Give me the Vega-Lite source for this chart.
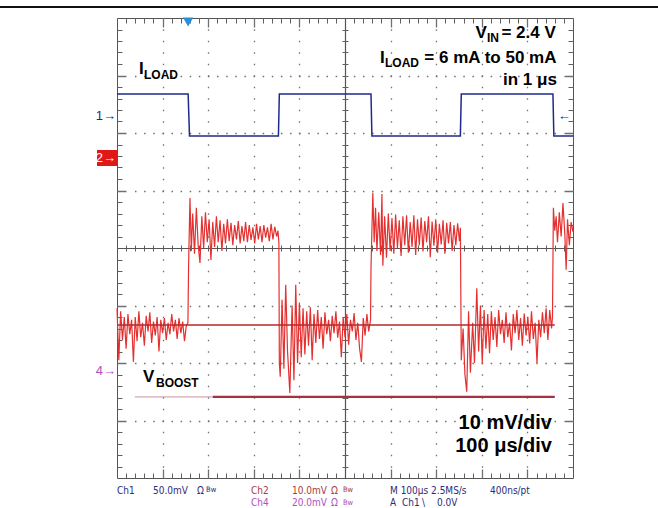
{
 "$schema": "https://vega.github.io/schema/vega-lite/v6.json",
 "width": 456, "height": 460,
 "autosize": {"type": "none"},
 "padding": {"left": 117, "top": 18, "right": 85, "bottom": 30},
 "background": "white",
 "config": {"view": {"stroke": "#555555", "strokeWidth": 1}},
 "datasets": {
  "ch1": [{"t":0,"v":2.68},{"t":1.56,"v":2.68},{"t":1.59,"v":1.95},{"t":3.54,"v":1.95},{"t":3.56,"v":2.68},{"t":5.57,"v":2.68},{"t":5.59,"v":1.95},{"t":7.53,"v":1.95},{"t":7.55,"v":2.68},{"t":9.56,"v":2.68},{"t":9.58,"v":1.95},{"t":10,"v":1.95}],
  "ch2": [
   {"t":0,"v":-1.05},{"t":0.04,"v":-1.95},{"t":0.08,"v":-1.1},{"t":0.12,"v":-1.6},{"t":0.16,"v":-1.2},{"t":0.2,"v":-1.75},{"t":0.24,"v":-1.15},{"t":0.28,"v":-1.5},{"t":0.32,"v":-1.25},{"t":0.36,"v":-1.98},{"t":0.4,"v":-1.2},{"t":0.44,"v":-1.62},{"t":0.48,"v":-1.1},{"t":0.52,"v":-1.55},{"t":0.56,"v":-1.3},{"t":0.6,"v":-1.7},{"t":0.64,"v":-1.18},{"t":0.68,"v":-1.45},{"t":0.72,"v":-1.12},{"t":0.76,"v":-1.65},{"t":0.8,"v":-1.28},{"t":0.84,"v":-1.52},{"t":0.88,"v":-1.2},{"t":0.92,"v":-1.8},{"t":0.96,"v":-1.25},{"t":1,"v":-1.48},{"t":1.04,"v":-1.22},{"t":1.08,"v":-1.6},{"t":1.12,"v":-1.3},{"t":1.16,"v":-1.5},{"t":1.2,"v":-1.15},{"t":1.24,"v":-1.45},{"t":1.28,"v":-1.25},{"t":1.32,"v":-1.58},{"t":1.36,"v":-1.22},{"t":1.4,"v":-1.48},{"t":1.44,"v":-1.28},{"t":1.48,"v":-1.62},{"t":1.52,"v":-1.35},{"t":1.555,"v":-1.3},{"t":1.57,"v":-0.3},{"t":1.6,"v":0.87},
   {"t":1.63,"v":-0.05},{"t":1.66,"v":0.6},{"t":1.7,"v":-0.1},{"t":1.74,"v":0.7},{"t":1.78,"v":0.05},{"t":1.82,"v":-0.26},{"t":1.86,"v":0.55},{"t":1.9,"v":0},{"t":1.94,"v":0.62},{"t":1.98,"v":0.1},{"t":2.02,"v":0.5},{"t":2.06,"v":-0.21},{"t":2.1,"v":0.45},{"t":2.14,"v":0.02},{"t":2.18,"v":0.55},{"t":2.22,"v":0.1},{"t":2.26,"v":0.48},{"t":2.3,"v":-0.05},{"t":2.34,"v":0.42},{"t":2.38,"v":0.08},{"t":2.42,"v":0.5},{"t":2.46,"v":0.12},{"t":2.5,"v":0.44},{"t":2.54,"v":0.05},{"t":2.58,"v":0.4},{"t":2.62,"v":0.15},{"t":2.66,"v":0.47},{"t":2.7,"v":0.08},{"t":2.74,"v":0.38},{"t":2.78,"v":0.12},{"t":2.82,"v":0.45},{"t":2.86,"v":0.1},{"t":2.9,"v":0.4},{"t":2.94,"v":0.14},{"t":2.98,"v":0.36},{"t":3.02,"v":0.08},{"t":3.06,"v":0.42},{"t":3.1,"v":0.15},{"t":3.14,"v":0.38},{"t":3.18,"v":0.1},{"t":3.22,"v":0.4},{"t":3.26,"v":0.18},{"t":3.3,"v":0.36},{"t":3.34,"v":0.12},{"t":3.38,"v":0.42},{"t":3.42,"v":0.15},{"t":3.46,"v":0.37},{"t":3.5,"v":0.2},{"t":3.53,"v":0.3},{"t":3.55,"v":0.1},{"t":3.56,"v":-2.0},
   {"t":3.58,"v":-2.24},{"t":3.62,"v":-0.9},{"t":3.66,"v":-2.1},{"t":3.7,"v":-0.64},{"t":3.74,"v":-1.8},{"t":3.79,"v":-2.52},{"t":3.84,"v":-1.0},{"t":3.88,"v":-2.3},{"t":3.92,"v":-0.64},{"t":3.96,"v":-2.0},{"t":4,"v":-0.95},{"t":4.04,"v":-1.9},{"t":4.08,"v":-1.05},{"t":4.12,"v":-1.85},{"t":4.16,"v":-1.1},{"t":4.2,"v":-1.7},{"t":4.24,"v":-1.03},{"t":4.28,"v":-1.95},{"t":4.32,"v":-1.15},{"t":4.36,"v":-1.65},{"t":4.4,"v":-1.08},{"t":4.44,"v":-1.58},{"t":4.48,"v":-1.2},{"t":4.52,"v":-1.75},{"t":4.56,"v":-1.12},{"t":4.6,"v":-1.5},{"t":4.64,"v":-1.25},{"t":4.68,"v":-1.62},{"t":4.72,"v":-1.18},{"t":4.76,"v":-1.48},{"t":4.8,"v":-1.1},{"t":4.84,"v":-1.56},{"t":4.88,"v":-1.28},{"t":4.92,"v":-1.9},{"t":4.96,"v":-1.2},{"t":5,"v":-1.55},{"t":5.04,"v":-1.15},{"t":5.08,"v":-1.68},{"t":5.12,"v":-1.25},{"t":5.16,"v":-1.45},{"t":5.2,"v":-1.13},{"t":5.24,"v":-1.6},{"t":5.28,"v":-1.3},{"t":5.32,"v":-1.75},{"t":5.36,"v":-1.98},{"t":5.4,"v":-1.22},{"t":5.44,"v":-1.52},{"t":5.48,"v":-1.15},{"t":5.52,"v":-1.45},{"t":5.56,"v":-1.25},{"t":5.57,"v":-0.35},{"t":5.61,"v":0.96},
   {"t":5.64,"v":0.1},{"t":5.67,"v":0.7},{"t":5.7,"v":-0.05},{"t":5.74,"v":0.62},{"t":5.78,"v":-0.12},{"t":5.81,"v":0.94},{"t":5.83,"v":-0.31},{"t":5.87,"v":0.55},{"t":5.91,"v":-0.17},{"t":5.95,"v":0.6},{"t":5.99,"v":-0.05},{"t":6.03,"v":0.52},{"t":6.07,"v":-0.1},{"t":6.11,"v":0.58},{"t":6.15,"v":0},{"t":6.19,"v":0.48},{"t":6.23,"v":-0.14},{"t":6.27,"v":0.55},{"t":6.31,"v":0.05},{"t":6.35,"v":0.57},{"t":6.39,"v":-0.08},{"t":6.43,"v":0.45},{"t":6.47,"v":0.02},{"t":6.51,"v":0.57},{"t":6.55,"v":-0.12},{"t":6.59,"v":0.5},{"t":6.63,"v":0.05},{"t":6.67,"v":0.53},{"t":6.71,"v":-0.06},{"t":6.75,"v":0.47},{"t":6.79,"v":0.1},{"t":6.83,"v":0.55},{"t":6.87,"v":-0.16},{"t":6.91,"v":0.46},{"t":6.95,"v":0.04},{"t":6.99,"v":0.5},{"t":7.03,"v":-0.08},{"t":7.07,"v":0.42},{"t":7.11,"v":0.06},{"t":7.15,"v":0.48},{"t":7.19,"v":-0.1},{"t":7.23,"v":0.44},{"t":7.27,"v":0.08},{"t":7.31,"v":0.45},{"t":7.35,"v":-0.05},{"t":7.39,"v":0.4},{"t":7.43,"v":0.05},{"t":7.47,"v":0.43},{"t":7.51,"v":0.12},{"t":7.53,"v":0.35},{"t":7.55,"v":-1.95},
   {"t":7.59,"v":-1.4},{"t":7.63,"v":-2.2},{"t":7.67,"v":-2.5},{"t":7.71,"v":-1.1},{"t":7.75,"v":-2.17},{"t":7.8,"v":-1.3},{"t":7.84,"v":-2.0},{"t":7.89,"v":-0.7},{"t":7.93,"v":-1.8},{"t":7.97,"v":-1.0},{"t":8.01,"v":-2.0},{"t":8.05,"v":-1.08},{"t":8.09,"v":-1.75},{"t":8.13,"v":-1.15},{"t":8.17,"v":-1.83},{"t":8.21,"v":-1.1},{"t":8.25,"v":-1.6},{"t":8.29,"v":-1.2},{"t":8.33,"v":-1.72},{"t":8.37,"v":-1.08},{"t":8.41,"v":-1.5},{"t":8.45,"v":-1.25},{"t":8.49,"v":-1.65},{"t":8.53,"v":-1.12},{"t":8.57,"v":-1.55},{"t":8.61,"v":-1.3},{"t":8.65,"v":-1.78},{"t":8.69,"v":-1.15},{"t":8.73,"v":-1.48},{"t":8.77,"v":-1.08},{"t":8.81,"v":-1.6},{"t":8.85,"v":-1.22},{"t":8.89,"v":-1.7},{"t":8.93,"v":-1.14},{"t":8.97,"v":-1.52},{"t":9.01,"v":-1.2},{"t":9.05,"v":-1.66},{"t":9.09,"v":-1.1},{"t":9.13,"v":-1.58},{"t":9.17,"v":-1.3},{"t":9.21,"v":-2.0},{"t":9.25,"v":-1.25},{"t":9.29,"v":-1.55},{"t":9.33,"v":-1.12},{"t":9.37,"v":-1.48},{"t":9.41,"v":-1.05},{"t":9.45,"v":-1.6},{"t":9.49,"v":-1.08},{"t":9.53,"v":-1.4},{"t":9.55,"v":-1.2},
   {"t":9.57,"v":0.7},{"t":9.6,"v":0.3},{"t":9.63,"v":0.55},{"t":9.66,"v":0.1},{"t":9.7,"v":0.62},{"t":9.74,"v":0.2},{"t":9.78,"v":0.78},{"t":9.82,"v":0.25},{"t":9.85,"v":-0.38},{"t":9.88,"v":0.5},{"t":9.92,"v":0.05},{"t":9.96,"v":0.45},{"t":10,"v":0.28}
  ],
  "refs": [
   {"kind":"frame","x1":-2.566,"x2":11.864,"y":4.191},
   {"kind":"ref2","x1":0,"x2":9.6,"y":-1.34},
   {"kind":"ch4a","x1":0.39,"x2":2.1,"y":-2.59},
   {"kind":"ch4b","x1":2.1,"x2":9.6,"y":-2.59}
  ],
  "box": [{"x1":-0.439,"x2":0,"y1":1.704,"y2":1.426}],
  "trig": [{"x":1.56,"y":3.93}],
  "labels": [
   {"x":0.482,"y":3.026,"txt":"I","role":"big"},
   {"x":0.592,"y":2.939,"txt":"LOAD","role":"sub"},
   {"x":0.57,"y":-2.33,"txt":"V","role":"big"},
   {"x":0.855,"y":-2.417,"txt":"BOOST","role":"sub"},
   {"x":7.862,"y":3.647,"txt":"V","role":"big"},
   {"x":8.114,"y":3.588,"txt":"IN","role":"sub"},
   {"x":8.43,"y":3.647,"txt":"= 2.4 V","role":"big"},
   {"x":5.768,"y":3.212,"txt":"I","role":"big"},
   {"x":5.877,"y":3.153,"txt":"LOAD","role":"sub"},
   {"x":6.74,"y":3.212,"txt":"= 6 mA to 50 mA","role":"big"},
   {"x":8.465,"y":2.835,"txt":"in 1 μs","role":"big"},
   {"x":9.539,"y":-3.148,"txt":"10 mV/div","role":"div"},
   {"x":9.539,"y":-3.548,"txt":"100 μs/div","role":"div"}
  ],
  "status": [
   {"x":0,"y":-4.278,"txt":"Ch1","c":"c1","s":"n"},
   {"x":0.789,"y":-4.278,"txt":"50.0mV","c":"c1","s":"n"},
   {"x":1.754,"y":-4.278,"txt":"Ω","c":"c1","s":"n"},
   {"x":1.952,"y":-4.243,"txt":"Bw","c":"c1","s":"s"},
   {"x":2.939,"y":-4.278,"txt":"Ch2","c":"c2","s":"n"},
   {"x":3.838,"y":-4.278,"txt":"10.0mV","c":"c2","s":"n"},
   {"x":4.693,"y":-4.278,"txt":"Ω","c":"c2","s":"n"},
   {"x":4.956,"y":-4.243,"txt":"Bw","c":"c2","s":"s"},
   {"x":2.939,"y":-4.487,"txt":"Ch4","c":"c4","s":"n"},
   {"x":3.838,"y":-4.487,"txt":"20.0mV","c":"c4","s":"n"},
   {"x":4.693,"y":-4.487,"txt":"Ω","c":"c4","s":"n"},
   {"x":4.956,"y":-4.47,"txt":"Bw","c":"c4","s":"s"},
   {"x":5.987,"y":-4.278,"txt":"M 100µs 2.5MS/s","c":"m","s":"n"},
   {"x":8.18,"y":-4.278,"txt":"400ns/pt","c":"m","s":"n"},
   {"x":5.987,"y":-4.487,"txt":"A","c":"m","s":"n"},
   {"x":6.25,"y":-4.487,"txt":"Ch1","c":"m","s":"n"},
   {"x":6.689,"y":-4.487,"txt":"\\","c":"m","s":"n"},
   {"x":7.018,"y":-4.487,"txt":"0.0V","c":"m","s":"n"}
  ],
  "markers": [
   {"x":-0.022,"y":2.296,"txt":"1→","c":"mk1"},
   {"x":-0.022,"y":1.565,"txt":"2→","c":"white"},
   {"x":-0.022,"y":-2.139,"txt":"4→","c":"mk4"},
   {"x":9.95,"y":2.296,"txt":"←","c":"mk1"}
  ]
 },
 "resolve": {"axis": {"x": "independent", "y": "independent"}},
 "layer": [
  {
   "data": {"name": "ch2"},
   "mark": {"type": "line", "color": "#e53030", "strokeWidth": 1.2},
   "encoding": {
    "x": {"field": "t", "type": "quantitative", "scale": {"domain": [0, 10], "nice": false, "zero": false},
      "axis": {"orient": "bottom", "values": [0.2,0.4,0.6,0.8,1,1.2,1.4,1.6,1.8,2,2.2,2.4,2.6,2.8,3,3.2,3.4,3.6,3.8,4,4.2,4.4,4.6,4.8,5,5.2,5.4,5.6,5.8,6,6.2,6.4,6.6,6.8,7,7.2,7.4,7.6,7.8,8,8.2,8.4,8.6,8.8,9,9.2,9.4,9.6,9.8],
        "labels": false, "ticks": false, "domain": false, "title": null, "grid": true, "gridColor": "#606060", "gridWidth": 1, "gridDash": [5,222,6,222,5,1000]}},
    "y": {"field": "v", "type": "quantitative", "scale": {"domain": [-4, 4], "nice": false, "zero": false},
      "axis": {"orient": "left", "values": [-3.8,-3.6,-3.4,-3.2,-3,-2.8,-2.6,-2.4,-2.2,-2,-1.8,-1.6,-1.4,-1.2,-1,-0.8,-0.6,-0.4,-0.2,0,0.2,0.4,0.6,0.8,1,1.2,1.4,1.6,1.8,2,2.2,2.4,2.6,2.8,3,3.2,3.4,3.6,3.8],
        "labels": false, "ticks": false, "domain": false, "title": null, "grid": true, "gridColor": "#606060", "gridWidth": 1, "gridDash": [5,220,6,220,5,1000]}}
   }
  },
  {
   "data": {"name": "ch1"},
   "mark": {"type": "line", "color": "#1f2a8c", "strokeWidth": 1.5},
   "encoding": {
    "x": {"field": "t", "type": "quantitative", "scale": {"domain": [0, 10], "nice": false, "zero": false},
      "axis": {"orient": "bottom", "values": [1,2,3,4,5,6,7,8,9], "labels": false, "ticks": false, "domain": false, "title": null, "grid": true,
        "gridColor": {"condition": {"test": "datum.value == 5", "value": "#555555"}, "value": "#707070"},
        "gridWidth": {"condition": {"test": "datum.value == 5", "value": 1.2}, "value": 1.3},
        "gridDash": {"condition": {"test": "datum.value == 5", "value": [1000, 0]},
          "value": [9,1.75,1.5,10,1.5,10,1.5,10,1.5,10,1.5,10,1.5,10,1.5,10,1.5,10,1.5,10,1.5,10,1.5,10,1.5,10,1.5,10,1.5,10,1.5,10,1.5,10,1.5,10,1.5,10,1.5,10,1.5,10,1.5,10,1.5,10,1.5,10,1.5,10,1.5,10,1.5,10,1.5,10,1.5,10,1.5,10,1.5,10,1.5,10,1.5,10,1.5,10,1.5,10,1.5,10,1.5,10,1.5,10,1.5,10,1.5,1.75,9,1000]}}},
    "y": {"field": "v", "type": "quantitative", "scale": {"domain": [-4, 4], "nice": false, "zero": false},
      "axis": {"orient": "left", "values": [-3,-2,-1,0,1,2,3], "labels": false, "ticks": false, "domain": false, "title": null, "grid": true,
        "gridColor": {"condition": {"test": "datum.value == 0", "value": "#555555"}, "value": "#707070"},
        "gridWidth": {"condition": {"test": "datum.value == 0", "value": 1.2}, "value": 1.3},
        "gridDash": {"condition": {"test": "datum.value == 0", "value": [1000, 0]},
          "value": [9,8.49,1.5,7.62,1.5,7.62,1.5,7.62,1.5,7.62,1.5,7.62,1.5,7.62,1.5,7.62,1.5,7.62,1.5,7.62,1.5,7.62,1.5,7.62,1.5,7.62,1.5,7.62,1.5,7.62,1.5,7.62,1.5,7.62,1.5,7.62,1.5,7.62,1.5,7.62,1.5,7.62,1.5,7.62,1.5,7.62,1.5,7.62,1.5,7.62,1.5,7.62,1.5,7.62,1.5,7.62,1.5,7.62,1.5,7.62,1.5,7.62,1.5,7.62,1.5,7.62,1.5,7.62,1.5,7.62,1.5,7.62,1.5,7.62,1.5,7.62,1.5,7.62,1.5,7.62,1.5,7.62,1.5,7.62,1.5,7.62,1.5,7.62,1.5,7.62,1.5,7.62,1.5,7.62,1.5,8.49,9,1000]}}}
   }
  },
  {
   "data": {"name": "refs"},
   "transform": [{"filter": "datum.kind == 'frame'"}],
   "mark": {"type": "rule", "color": "#111111", "strokeWidth": 2},
   "encoding": {
    "x": {"field": "x1", "type": "quantitative", "scale": {"domain": [0, 10], "nice": false, "zero": false}, "axis": null},
    "x2": {"field": "x2"},
    "y": {"field": "y", "type": "quantitative", "scale": {"domain": [-4, 4], "nice": false, "zero": false}, "axis": null}
   }
  },
  {
   "data": {"name": "refs"},
   "transform": [{"filter": "datum.kind == 'ref2'"}],
   "mark": {"type": "rule", "color": "#b42a2a", "strokeWidth": 1.5},
   "encoding": {
    "x": {"field": "x1", "type": "quantitative", "scale": {"domain": [0, 10], "nice": false, "zero": false}, "axis": null},
    "x2": {"field": "x2"},
    "y": {"field": "y", "type": "quantitative", "scale": {"domain": [-4, 4], "nice": false, "zero": false}, "axis": null}
   }
  },
  {
   "data": {"name": "refs"},
   "transform": [{"filter": "datum.kind == 'ch4a'"}],
   "mark": {"type": "rule", "color": "#c8909c", "strokeWidth": 1},
   "encoding": {
    "x": {"field": "x1", "type": "quantitative", "scale": {"domain": [0, 10], "nice": false, "zero": false}, "axis": null},
    "x2": {"field": "x2"},
    "y": {"field": "y", "type": "quantitative", "scale": {"domain": [-4, 4], "nice": false, "zero": false}, "axis": null}
   }
  },
  {
   "data": {"name": "refs"},
   "transform": [{"filter": "datum.kind == 'ch4b'"}],
   "mark": {"type": "rule", "color": "#a83040", "strokeWidth": 2.2},
   "encoding": {
    "x": {"field": "x1", "type": "quantitative", "scale": {"domain": [0, 10], "nice": false, "zero": false}, "axis": null},
    "x2": {"field": "x2"},
    "y": {"field": "y", "type": "quantitative", "scale": {"domain": [-4, 4], "nice": false, "zero": false}, "axis": null}
   }
  },
  {
   "data": {"name": "box"},
   "mark": {"type": "rect", "color": "#e01818"},
   "encoding": {
    "x": {"field": "x1", "type": "quantitative", "scale": {"domain": [0, 10], "nice": false, "zero": false}, "axis": null},
    "x2": {"field": "x2"},
    "y": {"field": "y1", "type": "quantitative", "scale": {"domain": [-4, 4], "nice": false, "zero": false}, "axis": null},
    "y2": {"field": "y2"}
   }
  },
  {
   "data": {"name": "trig"},
   "mark": {"type": "point", "shape": "triangle-down", "filled": true, "color": "#2a8fd8", "size": 110, "opacity": 1},
   "encoding": {
    "x": {"field": "x", "type": "quantitative", "scale": {"domain": [0, 10], "nice": false, "zero": false}, "axis": null},
    "y": {"field": "y", "type": "quantitative", "scale": {"domain": [-4, 4], "nice": false, "zero": false}, "axis": null}
   }
  },
  {
   "data": {"name": "labels"},
   "transform": [{"filter": "datum.role == 'big'"}],
   "mark": {"type": "text", "font": "Liberation Sans", "fontWeight": "bold", "fontSize": 17, "align": "left", "baseline": "alphabetic", "color": "#000000"},
   "encoding": {
    "x": {"field": "x", "type": "quantitative", "scale": {"domain": [0, 10], "nice": false, "zero": false}, "axis": null},
    "y": {"field": "y", "type": "quantitative", "scale": {"domain": [-4, 4], "nice": false, "zero": false}, "axis": null},
    "text": {"field": "txt"}
   }
  },
  {
   "data": {"name": "labels"},
   "transform": [{"filter": "datum.role == 'sub'"}],
   "mark": {"type": "text", "font": "Liberation Sans", "fontWeight": "bold", "fontSize": 12, "align": "left", "baseline": "alphabetic", "color": "#000000"},
   "encoding": {
    "x": {"field": "x", "type": "quantitative", "scale": {"domain": [0, 10], "nice": false, "zero": false}, "axis": null},
    "y": {"field": "y", "type": "quantitative", "scale": {"domain": [-4, 4], "nice": false, "zero": false}, "axis": null},
    "text": {"field": "txt"}
   }
  },
  {
   "data": {"name": "labels"},
   "transform": [{"filter": "datum.role == 'div'"}],
   "mark": {"type": "text", "font": "Liberation Sans", "fontWeight": "bold", "fontSize": 20, "align": "right", "baseline": "alphabetic", "color": "#000000"},
   "encoding": {
    "x": {"field": "x", "type": "quantitative", "scale": {"domain": [0, 10], "nice": false, "zero": false}, "axis": null},
    "y": {"field": "y", "type": "quantitative", "scale": {"domain": [-4, 4], "nice": false, "zero": false}, "axis": null},
    "text": {"field": "txt"}
   }
  },
  {
   "data": {"name": "status"},
   "transform": [{"filter": "datum.s == 'n'"}],
   "mark": {"type": "text", "font": "Liberation Sans Narrow, Arial Narrow, DejaVu Sans Condensed, sans-serif", "fontSize": 10, "align": "left", "baseline": "alphabetic"},
   "encoding": {
    "x": {"field": "x", "type": "quantitative", "scale": {"domain": [0, 10], "nice": false, "zero": false}, "axis": null},
    "y": {"field": "y", "type": "quantitative", "scale": {"domain": [-4, 4], "nice": false, "zero": false}, "axis": null},
    "text": {"field": "txt"},
    "color": {"field": "c", "type": "nominal", "legend": null,
      "scale": {"domain": ["c1","c2","c4","m","mk1","mk4","white"], "range": ["#2c2c7c","#a8403c","#b050c0","#2c2c7c","#1a2a8a","#b050c0","#ffffff"]}}
   }
  },
  {
   "data": {"name": "status"},
   "transform": [{"filter": "datum.s == 's'"}],
   "mark": {"type": "text", "font": "Liberation Sans Narrow, Arial Narrow, DejaVu Sans Condensed, sans-serif", "fontSize": 7.5, "align": "left", "baseline": "alphabetic"},
   "encoding": {
    "x": {"field": "x", "type": "quantitative", "scale": {"domain": [0, 10], "nice": false, "zero": false}, "axis": null},
    "y": {"field": "y", "type": "quantitative", "scale": {"domain": [-4, 4], "nice": false, "zero": false}, "axis": null},
    "text": {"field": "txt"},
    "color": {"field": "c", "type": "nominal", "legend": null,
      "scale": {"domain": ["c1","c2","c4","m","mk1","mk4","white"], "range": ["#2c2c7c","#a8403c","#b050c0","#2c2c7c","#1a2a8a","#b050c0","#ffffff"]}}
   }
  },
  {
   "data": {"name": "markers"},
   "mark": {"type": "text", "font": "Liberation Sans", "fontSize": 13, "align": "right", "baseline": "middle"},
   "encoding": {
    "x": {"field": "x", "type": "quantitative", "scale": {"domain": [0, 10], "nice": false, "zero": false}, "axis": null},
    "y": {"field": "y", "type": "quantitative", "scale": {"domain": [-4, 4], "nice": false, "zero": false}, "axis": null},
    "text": {"field": "txt"},
    "color": {"field": "c", "type": "nominal", "legend": null,
      "scale": {"domain": ["c1","c2","c4","m","mk1","mk4","white"], "range": ["#2c2c7c","#a8403c","#b050c0","#2c2c7c","#1a2a8a","#b050c0","#ffffff"]}}
   }
  }
 ]
}
